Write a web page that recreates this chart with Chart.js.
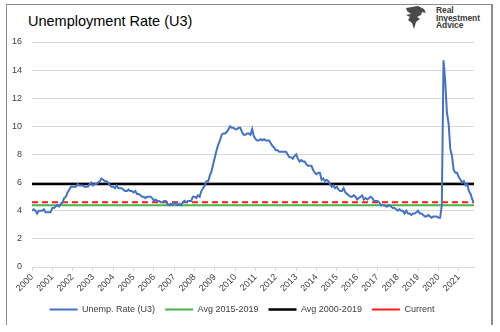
<!DOCTYPE html>
<html lang="en">
<head>
  <meta charset="UTF-8" />
  <title>Unemployment Rate (U3)</title>
  <script src="https://cdn.jsdelivr.net/npm/chart.js"></script>
  <style>
    html, body { margin: 0; padding: 0; background: #fff; }
    .wrap { position: relative; width: 500px; height: 332px; overflow: hidden; font-family: "Liberation Sans", Arial, sans-serif; }
    .frame { position: absolute; left: 6px; top: 4px; width: 484px; height: 320px; border-left: 1px solid #8c8c8c; border-top: 1px solid #8c8c8c; border-right: 2px solid #8c8c8c; }
    .title { position: absolute; left: 28px; top: 13px; font-size: 14.5px; color: #000; white-space: nowrap; }
    .logo { position: absolute; left: 404px; top: 5px; }
    .logo-text { position: absolute; left: 436px; top: 7px; font-size: 8.5px; font-weight: bold; line-height: 7.6px; color: #3a3a3a; letter-spacing: -0.1px; }
    canvas { position: absolute; left: 0; top: 0; }
  </style>
</head>
<body>
<div class="wrap">
  <div class="frame"></div>
  <div class="title">Unemployment Rate (U3)</div>
  <svg class="logo" width="24" height="26" viewBox="0 0 24 26">
    <path d="M2 3 L14 1 L20 4 L22 8 L18 7 L17 10 L13 12 L16 14 L12 17 L10 24 L8 18 L4 15 L6 12 L2 10 L7 9 L3 6 Z" fill="#4a4a4a"/>
  </svg>
  <div class="logo-text">Real<br>Investment<br>Advice</div>
  <canvas id="chart" width="500" height="332"></canvas>
</div>

<script>
  // US unemployment rate (U3), monthly, Jan 2000 - Oct 2021
  const unempRate = [
    4.0, 4.1, 4.0, 3.8, 4.0, 4.0, 4.0, 4.1, 3.9, 3.9, 3.9, 3.9,
    4.2, 4.2, 4.3, 4.4, 4.3, 4.5, 4.6, 4.9, 5.0, 5.3, 5.5, 5.7,
    5.7, 5.7, 5.7, 5.9, 5.8, 5.8, 5.8, 5.7, 5.7, 5.7, 5.9, 6.0,
    5.8, 5.9, 5.9, 6.0, 6.1, 6.3, 6.2, 6.1, 6.1, 6.0, 5.8, 5.7,
    5.7, 5.6, 5.8, 5.6, 5.6, 5.6, 5.5, 5.4, 5.4, 5.5, 5.4, 5.4,
    5.3, 5.4, 5.2, 5.2, 5.1, 5.0, 5.0, 4.9, 5.0, 5.0, 5.0, 4.9,
    4.7, 4.8, 4.7, 4.7, 4.6, 4.6, 4.7, 4.7, 4.5, 4.4, 4.5, 4.4,
    4.6, 4.5, 4.4, 4.5, 4.4, 4.6, 4.7, 4.6, 4.7, 4.7, 4.7, 5.0,
    5.0, 4.9, 5.1, 5.0, 5.4, 5.6, 5.8, 6.1, 6.1, 6.5, 6.8, 7.3,
    7.8, 8.3, 8.7, 9.0, 9.4, 9.5, 9.5, 9.6, 9.8, 10.0, 9.9, 9.9,
    9.8, 9.8, 9.9, 9.9, 9.6, 9.4, 9.4, 9.5, 9.5, 9.4, 9.8, 9.3,
    9.1, 9.0, 9.0, 9.1, 9.0, 9.1, 9.0, 9.0, 9.0, 8.8, 8.6, 8.5,
    8.3, 8.3, 8.2, 8.2, 8.2, 8.2, 8.2, 8.0, 7.8, 7.8, 7.7, 7.9,
    8.0, 7.7, 7.5, 7.6, 7.5, 7.5, 7.3, 7.2, 7.2, 7.2, 6.9, 6.7,
    6.6, 6.7, 6.7, 6.2, 6.3, 6.1, 6.2, 6.1, 5.9, 5.7, 5.8, 5.6,
    5.7, 5.5, 5.4, 5.4, 5.6, 5.3, 5.2, 5.1, 5.0, 5.0, 5.1, 5.0,
    4.8, 4.9, 5.0, 5.1, 4.8, 4.9, 4.8, 4.9, 5.0, 4.9, 4.7, 4.7,
    4.7, 4.6, 4.4, 4.4, 4.4, 4.3, 4.3, 4.4, 4.3, 4.2, 4.2, 4.1,
    4.0, 4.1, 4.0, 4.0, 3.8, 4.0, 3.8, 3.8, 3.7, 3.8, 3.8, 3.9,
    4.0, 3.8, 3.8, 3.7, 3.6, 3.6, 3.7, 3.6, 3.5, 3.6, 3.6, 3.6,
    3.5, 3.5, 4.4, 14.7, 13.2, 11.0, 10.2, 8.4, 7.9, 6.9, 6.7, 6.7,
    6.4, 6.2, 6.0, 6.1, 5.8, 5.9, 5.4, 5.2, 4.8, 4.6
  ];
  const yearLabels = ["2000", "2001", "2002", "2003", "2004", "2005", "2006", "2007", "2008", "2009", "2010",
    "2011", "2012", "2013", "2014", "2015", "2016", "2017", "2018", "2019", "2020", "2021"];
  const avg2015_2019 = 4.4;
  const avg2000_2019 = 5.9;
  const currentRate = 4.6;
  const yTicks = [0, 2, 4, 6, 8, 10, 12, 14, 16];

  const lastIdx = unempRate.length - 1;
  const pts = arr => arr.map((v, i) => ({ x: i, y: v }));
  const flat = v => unempRate.map((_, i) => ({ x: i, y: v }));
  const font = { family: "'Liberation Sans', Arial, sans-serif", size: 9 };

  const ctx = document.getElementById("chart").getContext("2d");
  new Chart(ctx, {
    type: "line",
    data: {
      datasets: [
        { label: "Unemp. Rate (U3)", data: pts(unempRate), borderColor: "#4472c4", borderWidth: 2, pointRadius: 0, tension: 0 },
        { label: "Avg 2015-2019", data: flat(avg2015_2019), borderColor: "#4cb04c", borderWidth: 2, pointRadius: 0 },
        { label: "Avg 2000-2019", data: flat(avg2000_2019), borderColor: "#000000", borderWidth: 2.5, pointRadius: 0 },
        { label: "Current", data: flat(currentRate), borderColor: "#ff1a1a", borderWidth: 2, borderDash: [6, 4], pointRadius: 0 }
      ]
    },
    options: {
      responsive: false,
      animation: false,
      layout: { padding: { left: 10, right: 26, top: 42, bottom: 8 } },
      plugins: {
        tooltip: { enabled: false },
        legend: {
          position: "bottom",
          labels: {
            usePointStyle: true,
            pointStyle: "line",
            pointStyleWidth: 28,
            boxHeight: 2,
            padding: 10,
            color: "#404040",
            font: font
          }
        }
      },
      scales: {
        x: {
          type: "linear",
          min: 0,
          max: lastIdx,
          afterFit: s => { s.height = 28; },
          grid: { drawOnChartArea: false, drawTicks: true, tickLength: 4, color: "#d9d9d9" },
          border: { color: "#d9d9d9" },
          ticks: {
            stepSize: 12,
            includeBounds: false,
            autoSkip: false,
            minRotation: 45,
            maxRotation: 45,
            padding: 1,
            color: "#404040",
            font: font,
            callback: v => (v % 12 === 0 ? yearLabels[v / 12] : null)
          }
        },
        y: {
          min: 0,
          max: 16,
          afterFit: s => { s.width = 22; },
          afterBuildTicks: s => { s.ticks = yTicks.map(v => ({ value: v })); },
          grid: { color: "#d9d9d9", drawTicks: false },
          border: { display: false },
          ticks: {
            padding: 10,
            color: "#404040",
            font: font
          }
        }
      }
    }
  });
</script>
</body>
</html>
